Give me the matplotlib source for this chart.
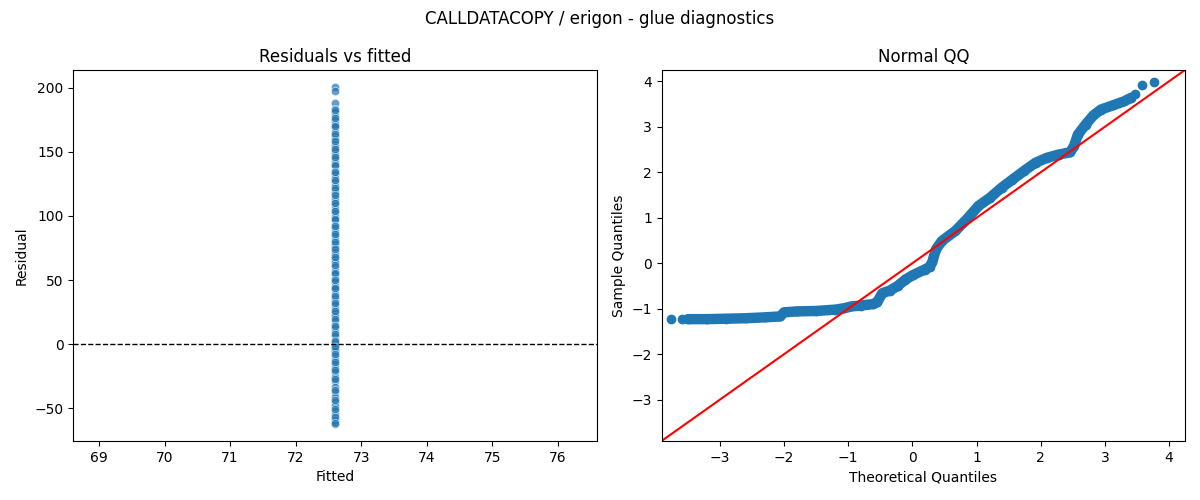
import matplotlib
matplotlib.use("Agg")
import matplotlib.pyplot as plt
import seaborn as sns
import numpy as np

# ---- data ----
fitted_value = 72.6
residuals = [200.5, 197.2, 187.8, 183.4, 180.6, 177.9, 174.8, 171.5, 168.9, 165.7,
             162.4, 159.8, 156.3, 153.6, 150.2, 147.5, 144.1, 141.4, 138.7, 135.2,
             132.6, 129.3, 126.0, 123.4, 120.1, 117.5, 114.2, 111.6, 108.3, 105.0,
             102.4, 99.1, 96.5, 93.2, 90.6, 87.3, 84.0, 81.4, 78.1, 75.5, 72.2,
             69.6, 66.3, 63.7, 60.4, 57.1, 54.5, 51.2, 48.6, 45.3, 42.7, 39.4,
             36.1, 33.5, 30.2, 27.6, 24.3, 21.7, 18.4, 15.1, 12.5, 9.2, 6.6,
             3.3, 1.2, -1.4, -3.6, -5.2, -9.1, -12.4, -15.6, -18.8, -22.0,
             -25.3, -28.6, -33.7, -37.2, -41.5, -45.1, -48.5, -51.8, -55.3,
             -58.7, -62.3,
             182.1, 176.2, 170.3, 164.1, 158.2, 152.0, 146.1, 140.0, 134.1,
             128.0, 121.8, 115.9, 110.0, 103.7, 97.8, 91.9, 85.7, 79.8, 73.9,
             67.9, 62.0, 55.8, 49.9, 44.0, 37.8, 31.9, 25.9, 20.0, 13.8, 7.9,
             2.2, -2.5, -7.3, -13.9, -20.4, -27.0, -35.5, -43.2, -50.2, -57.0,
             -61.1]
fitted = [fitted_value] * len(residuals)

qq_theoretical = [-3.50, -3.20, -2.90, -2.60, -2.30, -2.06, -2.00, -1.80, -1.50,
                  -1.20, -1.06, -0.95, -0.80, -0.62, -0.55, -0.47, -0.35, -0.23,
                  -0.11, 0.01, 0.19, 0.27, 0.31, 0.37, 0.46, 0.67, 0.85, 1.03,
                  1.21, 1.39, 1.56, 1.74, 1.92, 2.10, 2.28, 2.46, 2.52, 2.58,
                  2.70, 2.82, 2.94, 3.12, 3.30, 3.41]
qq_sample = [-1.23, -1.23, -1.22, -1.21, -1.19, -1.17, -1.08, -1.06, -1.05,
             -1.02, -0.99, -0.95, -0.93, -0.90, -0.86, -0.66, -0.60, -0.50,
             -0.36, -0.26, -0.14, -0.08, 0.03, 0.31, 0.49, 0.71, 0.97, 1.26,
             1.44, 1.66, 1.84, 2.03, 2.21, 2.32, 2.39, 2.44, 2.58, 2.83,
             3.05, 3.25, 3.38, 3.47, 3.56, 3.64]
qq_iso_theoretical = [-3.77, -3.59, 3.47, 3.58, 3.76]
qq_iso_sample = [-1.23, -1.23, 3.72, 3.92, 3.98]
qq_limits = (-3.91, 4.25)

fig, (ax1, ax2) = plt.subplots(1, 2, figsize=(12, 5), dpi=100)
fig.subplots_adjust(left=0.061, right=0.9875, top=0.86, bottom=0.118, wspace=0.124)
fig.suptitle("CALLDATACOPY / erigon - glue diagnostics", fontsize=12, y=0.98)

sns.scatterplot(x=fitted, y=residuals, ax=ax1, alpha=0.7)
ax1.axhline(0, color="black", linestyle="--", linewidth=1)
ax1.set_title("Residuals vs fitted")
ax1.set_xlabel("Fitted")
ax1.set_ylabel("Residual")

ax2.plot(qq_theoretical, qq_sample, color="#1f77b4", linewidth=7.5,
         solid_capstyle="round", solid_joinstyle="round")
ax2.plot(qq_theoretical, qq_sample, "o", color="#1f77b4", markersize=6)
ax2.plot(qq_iso_theoretical, qq_iso_sample, "o", color="#1f77b4", markersize=6)
ax2.plot(qq_limits, qq_limits, color="red")
ax2.set_xlim(qq_limits)
ax2.set_ylim(qq_limits)
ax2.set_title("Normal QQ")
ax2.set_xlabel("Theoretical Quantiles")
ax2.set_ylabel("Sample Quantiles")

fig.savefig("out.png")
